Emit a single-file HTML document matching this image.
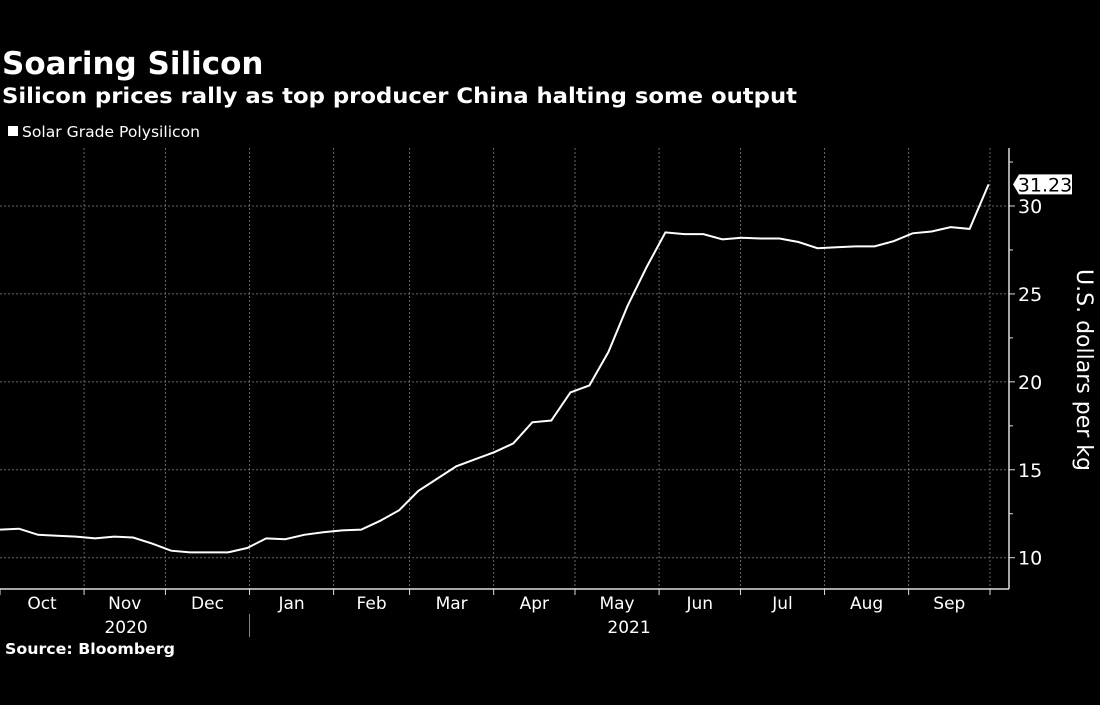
<!DOCTYPE html>
<html><head><meta charset="utf-8"><style>
body{margin:0;background:#000;width:1100px;height:700px;overflow:hidden;font-family:"Liberation Sans","DejaVu Sans",sans-serif;color:#fff}
</style></head><body>
<svg id="chart" width="1100" height="700" xmlns="http://www.w3.org/2000/svg">
<text x="2" y="74" font-size="31" font-weight="bold" fill="#fff" font-family="DejaVu Sans, sans-serif">Soaring Silicon</text>
<text x="2" y="103" font-size="21" font-weight="bold" fill="#fff" font-family="DejaVu Sans, sans-serif" textLength="795" lengthAdjust="spacingAndGlyphs">Silicon prices rally as top producer China halting some output</text>
<rect x="8" y="126" width="10" height="10" fill="#fff"/>
<text x="22" y="137" font-size="15" fill="#fff" font-family="DejaVu Sans, sans-serif" textLength="178" lengthAdjust="spacingAndGlyphs">Solar Grade Polysilicon</text>
<g id="grid"></g>
<g id="axes"></g>
<path id="line" fill="none" stroke="#fff" stroke-width="2"/>
<g id="lastlabel"></g>
<text transform="translate(1077,370) rotate(90)" text-anchor="middle" font-size="22" fill="#fff" font-family="DejaVu Sans, sans-serif">U.S. dollars per kg</text>
<text x="5" y="654" font-size="15" font-weight="bold" fill="#fff" font-family="DejaVu Sans, sans-serif" textLength="170" lengthAdjust="spacingAndGlyphs">Source: Bloomberg</text>
</svg>
<script>
const values=[11.6,11.65,11.3,11.25,11.2,11.1,11.2,11.15,10.8,10.4,10.3,10.3,10.3,10.55,11.1,11.05,11.3,11.45,11.55,11.6,12.1,12.7,13.8,14.5,15.2,15.6,16.0,16.5,17.7,17.8,19.4,19.8,21.7,24.3,26.5,28.5,28.4,28.4,28.1,28.2,28.15,28.15,27.95,27.6,27.65,27.7,27.7,28.0,28.45,28.55,28.8,28.7,31.23];
const monthLabels=["Oct","Nov","Dec","Jan","Feb","Mar","Apr","May","Jun","Jul","Aug","Sep"];
const monthStartDays=[0,31,61,92,123,151,182,212,243,273,304,335,365];
const yTicks=[10,15,20,25,30];
const yMinorTicks=[12.5,17.5,22.5,27.5,32.5];
const yearLabels=["2020","2021"];
const lastValueLabel="31.23";

const NS="http://www.w3.org/2000/svg";
const X0=0,X1=990,AX=1009,TOP=148,BOT=589;
const xScale=d=>X0+d*(X1-X0)/365;
const yScale=v=>557.7+(v-10)*(206-557.7)/20;
function el(tag,attrs,parent,txt){const e=document.createElementNS(NS,tag);for(const k in attrs)e.setAttribute(k,attrs[k]);if(txt!==undefined)e.textContent=txt;parent.appendChild(e);return e;}
const grid=document.getElementById('grid'),axes=document.getElementById('axes');
yTicks.forEach(v=>{
  const y=yScale(v);
  const g=el('line',{x1:0,x2:AX,y1:y,y2:y,stroke:'#666','stroke-dasharray':'2,2','stroke-width':1},grid);
  
  
  const t=el('line',{x1:AX,x2:AX+6,y1:y,y2:y,stroke:'#ddd'},axes);
  
  
  const l=el('text',{x:AX+9,y:y+7,'font-size':19,fill:'#fff','font-family':'DejaVu Sans, sans-serif'},axes,String(v));
  
  
});
yMinorTicks.forEach(v=>{
  const y=yScale(v);
  const t=el('line',{x1:AX,x2:AX+4,y1:y,y2:y,stroke:'#ddd'},axes);
  
  
});
monthStartDays.forEach((d,i)=>{
  const x=xScale(d);
  if(i>0){const g=el('line',{x1:x,x2:x,y1:TOP,y2:BOT,stroke:'#666','stroke-dasharray':'2,2'},grid);
  
  }
  const t=el('line',{x1:x,x2:x,y1:BOT,y2:BOT+6,stroke:'#ddd'},axes);
  
  
  if(i<monthLabels.length){
    const cx=(xScale(d)+xScale(monthStartDays[i+1]))/2;
    const l=el('text',{x:cx,y:609,'text-anchor':'middle','font-size':17,fill:'#fff','font-family':'DejaVu Sans, sans-serif'},axes,monthLabels[i]);
    
    
  }
});
const ax=el('line',{x1:0,x2:AX,y1:BOT,y2:BOT,stroke:'#ddd','stroke-width':1.5},axes);


const ay=el('line',{x1:AX,x2:AX,y1:TOP,y2:BOT,stroke:'#ddd','stroke-width':1.5},axes);


const sep=xScale(monthStartDays[3]);
const ys=el('line',{x1:sep,x2:sep,y1:614,y2:637,stroke:'#888'},axes);


[[xScale(monthStartDays[1])+42,yearLabels[0]],[(xScale(monthStartDays[7])+xScale(monthStartDays[8]))/2+12,yearLabels[1]]].forEach(([x,t])=>{
  const l=el('text',{x:x,y:633,'text-anchor':'middle','font-size':17,fill:'#fff','font-family':'DejaVu Sans, sans-serif'},axes,t);
  
  
});
let d='';
values.forEach((v,i)=>{d+=(i?'L':'M')+xScale(i*7*365/(52*7)*0.9986).toFixed(1)+','+yScale(v).toFixed(1);});
document.getElementById('line').setAttribute('d',d);
const lv=values[values.length-1],ly=yScale(lv),lg=document.getElementById('lastlabel');
const p=el('path',{d:`M1013,${ly} L1019,${ly-10} L1072,${ly-10} L1072,${ly+10} L1019,${ly+10} Z`,fill:'#fff'},lg);


const lt=el('text',{x:1045,y:ly+7,'text-anchor':'middle','font-size':19,fill:'#000','font-family':'DejaVu Sans, sans-serif'},lg,lastValueLabel);


</script>
</body></html>
